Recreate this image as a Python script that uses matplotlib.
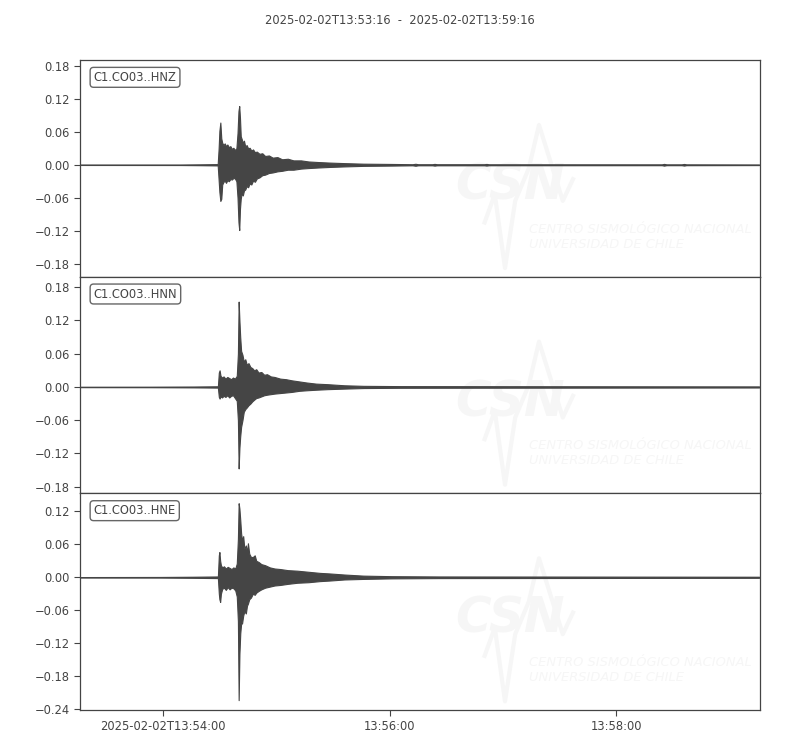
import matplotlib
matplotlib.use("Agg")
import matplotlib.pyplot as plt
import numpy as np

# ---------------- data (seconds after 2025-02-02T13:53:16) ----------------
title_text = "2025-02-02T13:53:16  -  2025-02-02T13:59:16"
channels = ["C1.CO03..HNZ", "C1.CO03..HNN", "C1.CO03..HNE"]
xtick_seconds = [44, 164, 284]
xtick_labels = ["2025-02-02T13:54:00", "13:56:00", "13:58:00"]

hnz_t = [0, 52.9, 63.4, 72.9, 73.4, 73.8, 74.3, 74.8, 75.3, 76.0, 76.6, 77.3, 78.0, 78.8,
         79.6, 80.4, 81.2, 82.0, 82.8, 83.4, 83.9, 84.3, 84.7, 85.1, 85.6, 86.2, 86.8,
         87.5, 88.2, 89.0, 89.8, 90.7, 91.6, 92.6, 93.6, 95.0, 96.5, 98.0, 100.0, 102.0,
         104.5, 107.0, 110.0, 113.0, 117.0, 121.0, 126.0, 132.0, 140.0, 150.0, 165.0,
         176.0, 177.6, 179.0, 186.5, 187.7, 189.0, 214.0, 215.2, 216.5, 308.0, 309.2,
         310.5, 318.5, 319.8, 321.0, 359.5]
hnz_up = [0.0004, 0.0005, 0.0008, 0.0012, 0.030, 0.062, 0.077, 0.048, 0.040, 0.036, 0.039,
          0.034, 0.037, 0.032, 0.034, 0.029, 0.031, 0.027, 0.030, 0.058, 0.098, 0.107,
          0.085, 0.052, 0.047, 0.040, 0.044, 0.033, 0.036, 0.030, 0.031, 0.026, 0.028,
          0.023, 0.024, 0.020, 0.021, 0.016, 0.017, 0.013, 0.014, 0.010, 0.011, 0.008,
          0.008, 0.006, 0.005, 0.004, 0.003, 0.002, 0.0015, 0.001, 0.0018, 0.001, 0.001,
          0.0016, 0.001, 0.001, 0.0015, 0.0009, 0.0008, 0.0016, 0.0008, 0.0008, 0.0015,
          0.0008, 0.0006]
hnz_lo = [-0.0004, -0.0005, -0.0008, -0.0012, -0.028, -0.050, -0.066, -0.062, -0.036,
          -0.031, -0.029, -0.033, -0.028, -0.030, -0.026, -0.027, -0.024, -0.025, -0.030,
          -0.060, -0.105, -0.119, -0.080, -0.062, -0.052, -0.056, -0.047, -0.045, -0.039,
          -0.041, -0.034, -0.036, -0.029, -0.031, -0.025, -0.023, -0.019, -0.018, -0.015,
          -0.014, -0.012, -0.011, -0.009, -0.009, -0.007, -0.006, -0.005, -0.004, -0.003,
          -0.002, -0.0015, -0.001, -0.0018, -0.001, -0.001, -0.0016, -0.001, -0.001,
          -0.0015, -0.0009, -0.0008, -0.0016, -0.0008, -0.0008, -0.0015, -0.0008, -0.0006]

hnn_t = [0, 37.0, 60.0, 73.0, 73.5, 73.9, 74.4, 75.2, 76.0, 77.0, 78.0, 79.0, 80.0, 81.0,
         82.0, 83.0, 83.6, 84.0, 84.4, 84.8, 85.3, 86.0, 86.7, 87.5, 88.3, 89.2, 90.2,
         91.2, 92.2, 93.3, 94.5, 96.0, 97.5, 99.0, 101.0, 103.0, 106.0, 109.0, 112.0,
         116.0, 120.0, 125.0, 131.0, 140.0, 150.0, 170.0, 359.5]
hnn_up = [0.0004, 0.0005, 0.0008, 0.0012, 0.026, 0.030, 0.020, 0.017, 0.019, 0.015, 0.018,
          0.016, 0.014, 0.017, 0.015, 0.020, 0.060, 0.154, 0.120, 0.091, 0.065, 0.058,
          0.046, 0.050, 0.040, 0.043, 0.036, 0.034, 0.030, 0.032, 0.026, 0.027, 0.022,
          0.023, 0.019, 0.018, 0.015, 0.014, 0.012, 0.010, 0.008, 0.006, 0.005, 0.003,
          0.002, 0.0015, 0.001]
hnn_lo = [-0.0004, -0.0005, -0.0008, -0.0012, -0.018, -0.021, -0.017, -0.019, -0.016,
          -0.018, -0.015, -0.019, -0.016, -0.015, -0.020, -0.025, -0.060, -0.147, -0.110,
          -0.090, -0.072, -0.060, -0.045, -0.040, -0.037, -0.033, -0.030, -0.026, -0.023,
          -0.020, -0.019, -0.017, -0.015, -0.014, -0.013, -0.012, -0.011, -0.010, -0.009,
          -0.007, -0.006, -0.005, -0.004, -0.003, -0.002, -0.0015, -0.001]

hne_t = [0, 42.3, 60.0, 73.0, 73.5, 73.8, 74.2, 74.6, 75.3, 76.2, 77.2, 78.2, 79.2, 80.2,
         81.2, 82.2, 83.0, 83.6, 84.0, 84.4, 84.85, 85.3, 85.8, 86.4, 87.0, 87.8, 88.4,
         88.9, 89.6, 90.5, 91.5, 92.5, 93.3, 94.5, 96.0, 98.0, 100.5, 103.0, 106.0, 110.0,
         115.0, 121.0, 127.0, 132.0, 140.0, 150.0, 165.0, 190.0, 359.5]
hne_up = [0.0004, 0.0006, 0.0010, 0.0015, 0.040, 0.046, 0.030, 0.022, 0.018, 0.020, 0.016,
          0.019, 0.017, 0.015, 0.018, 0.016, 0.025, 0.070, 0.135, 0.125, 0.104, 0.080,
          0.067, 0.075, 0.052, 0.058, 0.045, 0.062, 0.043, 0.037, 0.037, 0.040, 0.030,
          0.028, 0.024, 0.022, 0.018, 0.016, 0.015, 0.013, 0.012, 0.010, 0.008, 0.007,
          0.005, 0.003, 0.002, 0.0015, 0.001]
hne_lo = [-0.0004, -0.0006, -0.0010, -0.0015, -0.030, -0.040, -0.045, -0.030, -0.021,
          -0.019, -0.023, -0.018, -0.022, -0.019, -0.020, -0.024, -0.035, -0.080, -0.224,
          -0.140, -0.102, -0.085, -0.084, -0.070, -0.062, -0.066, -0.052, -0.048, -0.040,
          -0.037, -0.030, -0.032, -0.028, -0.025, -0.022, -0.019, -0.017, -0.015, -0.014,
          -0.012, -0.010, -0.009, -0.007, -0.006, -0.004, -0.003, -0.002, -0.0015, -0.001]

traces = [(hnz_t, hnz_up, hnz_lo), (hnn_t, hnn_up, hnn_lo), (hne_t, hne_up, hne_lo)]
ylims = [(-0.204, 0.191), (-0.192, 0.199), (-0.242, 0.153)]
yticks = [[-0.18, -0.12, -0.06, 0.0, 0.06, 0.12, 0.18],
          [-0.18, -0.12, -0.06, 0.0, 0.06, 0.12, 0.18],
          [-0.24, -0.18, -0.12, -0.06, 0.0, 0.06, 0.12]]

# ---------------- figure ----------------
plt.rcParams['font.family'] = ['DejaVu Sans']
TXT = '#444444'
WAVE = '#454545'
fig, axes = plt.subplots(3, 1, figsize=(8, 7.5), dpi=100, sharex=True)
fig.subplots_adjust(left=0.1, right=0.95, top=0.92, bottom=0.0533, hspace=0)

for i, ax in enumerate(axes):
    t, up, lo = traces[i]
    ax.fill_between(t, lo, up, color=WAVE, edgecolor=WAVE, linewidth=0.8, zorder=3)
    ax.set_xlim(0, 360)
    ax.set_ylim(*ylims[i])
    ax.set_yticks(yticks[i])
    for s in ax.spines.values():
        s.set_color('#444444')
        s.set_linewidth(0.9)
    ax.tick_params(axis='y', labelsize=8.3, colors=TXT, length=4, width=0.8, direction='out')
    ax.tick_params(axis='x', labelsize=8.3, colors=TXT, length=4, width=0.8, direction='out')
    ax.text(0.02, 0.95, channels[i], transform=ax.transAxes, ha='left', va='top',
            fontsize=8.3, color=TXT, zorder=5,
            bbox=dict(boxstyle='round,pad=0.3', facecolor='white', edgecolor='#666666',
                      linewidth=1.0))
    # faint CSN watermark
    wm = '#f6f6f6'
    ax.text(0.552, 0.31, "CSN", transform=ax.transAxes, fontsize=35, fontweight='bold',
            fontstyle='italic', color=wm, zorder=1, ha='left', va='bottom', clip_on=True)
    ax.text(0.66, 0.12, "CENTRO SISMOLÓGICO NACIONAL\nUNIVERSIDAD DE CHILE",
            transform=ax.transAxes, fontsize=9.4, fontstyle='italic', color=wm, zorder=1,
            ha='left', va='bottom', linespacing=1.2, clip_on=True)
    ax.plot([0.595, 0.61, 0.625, 0.64, 0.66, 0.675, 0.71, 0.725],
            [0.25, 0.38, 0.04, 0.35, 0.5, 0.7, 0.35, 0.45],
            transform=ax.transAxes, color=wm, lw=3, zorder=1)

for ax in axes[:-1]:
    ax.tick_params(axis='x', bottom=False, labelbottom=False)

axes[-1].set_xticks(xtick_seconds)
axes[-1].set_xticklabels(xtick_labels)

fig.text(0.5, 0.973, title_text, ha='center', va='center', fontsize=8.3, color=TXT)

fig.savefig("out.png", dpi=100, facecolor='white')
